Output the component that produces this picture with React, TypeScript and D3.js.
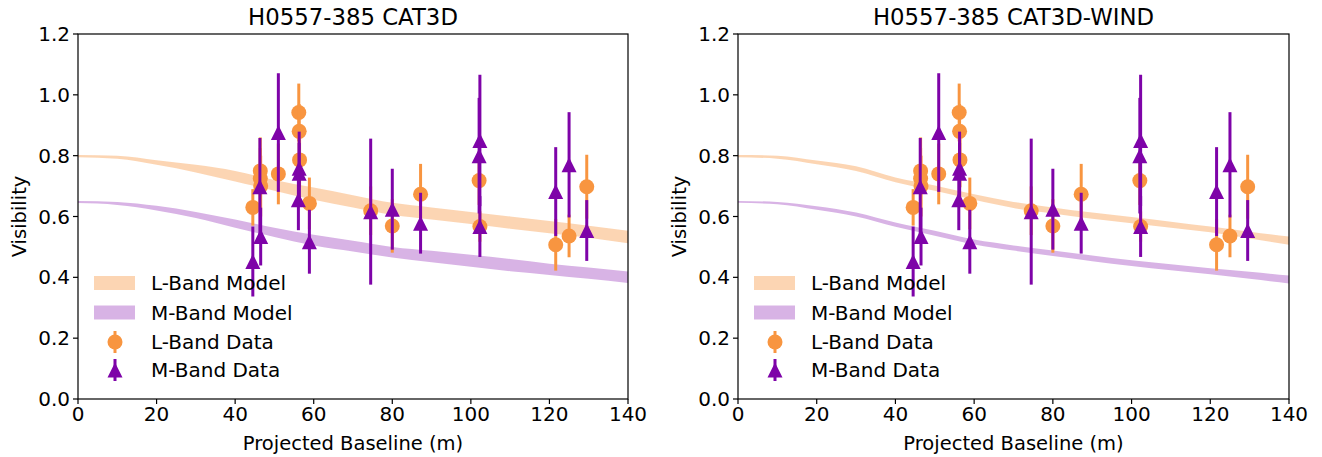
import React from "react";
import * as d3 from "d3";

// ---- Data ----
const bandBaselines = [0, 10, 20, 30, 40, 50, 60, 70, 80, 90, 100, 110, 120, 130, 140];

// Left panel (CAT3D) model bands
const cat3dLLow = [0.795, 0.79, 0.77, 0.745, 0.715, 0.685, 0.655, 0.63, 0.606, 0.59, 0.575, 0.56, 0.545, 0.53, 0.512];
const cat3dLHigh = [0.802, 0.8, 0.785, 0.77, 0.75, 0.72, 0.695, 0.67, 0.645, 0.63, 0.615, 0.6, 0.585, 0.57, 0.553];
const cat3dMLow = [0.644, 0.638, 0.62, 0.595, 0.563, 0.533, 0.505, 0.485, 0.465, 0.45, 0.435, 0.42, 0.408, 0.395, 0.381];
const cat3dMHigh = [0.651, 0.648, 0.635, 0.615, 0.59, 0.563, 0.54, 0.52, 0.5, 0.487, 0.474, 0.46, 0.445, 0.432, 0.419];

// Right panel (CAT3D-WIND) model bands
const windLLow = [0.795, 0.79, 0.772, 0.75, 0.713, 0.685, 0.655, 0.628, 0.61, 0.593, 0.578, 0.563, 0.548, 0.528, 0.507];
const windLHigh = [0.802, 0.8, 0.784, 0.765, 0.728, 0.702, 0.673, 0.648, 0.63, 0.613, 0.598, 0.583, 0.567, 0.55, 0.534];
const windMLow = [0.645, 0.64, 0.622, 0.6, 0.566, 0.537, 0.508, 0.488, 0.47, 0.453, 0.437, 0.423, 0.41, 0.395, 0.38];
const windMHigh = [0.651, 0.648, 0.634, 0.613, 0.58, 0.553, 0.524, 0.505, 0.488, 0.472, 0.456, 0.443, 0.43, 0.418, 0.406];

// L-band data
const lBaseline = [44.5, 46.4, 46.4, 46.5, 51.0, 56.2, 56.3, 56.4, 58.9, 74.5, 80.0, 87.2, 102.1, 102.3, 121.6, 125.0, 129.5];
const lVis = [0.63, 0.75, 0.725, 0.7, 0.74, 0.942, 0.88, 0.786, 0.643, 0.619, 0.569, 0.673, 0.718, 0.567, 0.507, 0.536, 0.698];
const lErr = [0.06, 0.11, 0.1, 0.1, 0.1, 0.095, 0.09, 0.09, 0.085, 0.08, 0.088, 0.1, 0.08, 0.05, 0.085, 0.07, 0.105];

// M-band data
const mBaseline = [44.5, 46.5, 46.3, 51.0, 56.3, 56.3, 56.1, 58.9, 74.5, 80.0, 87.2, 102.3, 102.1, 102.3, 121.6, 125.0, 129.5];
const mVis = [0.452, 0.534, 0.698, 0.876, 0.759, 0.742, 0.655, 0.517, 0.616, 0.624, 0.578, 0.85, 0.8, 0.567, 0.682, 0.77, 0.554];
const mErr = [0.115, 0.095, 0.16, 0.195, 0.12, 0.1, 0.1, 0.105, 0.24, 0.133, 0.1, 0.216, 0.19, 0.1, 0.146, 0.173, 0.1];

const xTicks = [0, 20, 40, 60, 80, 100, 120, 140];
const yTicks = [0, 0.2, 0.4, 0.6, 0.8, 1.0, 1.2];
const legendLabels = ["L-Band Model", "M-Band Model", "L-Band Data", "M-Band Data"];

const ORANGE = "#F89540";
const PURPLE = "#7E03A8";
const FONT = "DejaVu Sans, sans-serif";

const panels = [
  { left: 78, right: 628, title: "H0557-385 CAT3D", lLo: cat3dLLow, lHi: cat3dLHigh, mLo: cat3dMLow, mHi: cat3dMHigh },
  { left: 738, right: 1289, title: "H0557-385 CAT3D-WIND", lLo: windLLow, lHi: windLHigh, mLo: windMLow, mHi: windMHigh },
];

const TOP = 34;
const BOTTOM = 399;

function Panel({ p }: { p: (typeof panels)[number] }) {
  const x = d3.scaleLinear().domain([0, 140]).range([p.left, p.right]);
  const y = d3.scaleLinear().domain([0, 1.2]).range([BOTTOM, TOP]);
  const area = (lo: number[], hi: number[]) =>
    d3
      .area<number>()
      .x((_, i) => x(bandBaselines[i]))
      .y0((_, i) => y(lo[i]))
      .y1((_, i) => y(hi[i]))
      .curve(d3.curveMonotoneX)(bandBaselines) as string;
  const tri = (cx: number, cy: number, s: number) =>
    `M${cx},${cy - s / 2}L${cx - s / 2},${cy + s / 2}L${cx + s / 2},${cy + s / 2}Z`;
  const cx = (p.left + p.right) / 2;
  const legY = [283, 312.5, 342, 370];
  return (
    <g>
      <text x={cx} y={25} textAnchor="middle" fontSize={22.8} fontFamily={FONT}>
        {p.title}
      </text>
      <path d={area(p.lLo, p.lHi)} fill={ORANGE} fillOpacity={0.4} />
      <path d={area(p.mLo, p.mHi)} fill={PURPLE} fillOpacity={0.3} />
      {lBaseline.map((b, i) => (
        <g key={"l" + i}>
          <line x1={x(b)} x2={x(b)} y1={y(lVis[i] - lErr[i])} y2={y(lVis[i] + lErr[i])} stroke={ORANGE} strokeWidth={3} />
          <circle cx={x(b)} cy={y(lVis[i])} r={7.5} fill={ORANGE} />
        </g>
      ))}
      {mBaseline.map((b, i) => (
        <g key={"m" + i}>
          <line x1={x(b)} x2={x(b)} y1={y(mVis[i] - mErr[i])} y2={y(mVis[i] + mErr[i])} stroke={PURPLE} strokeWidth={3} />
          <path d={tri(x(b), y(mVis[i]), 15)} fill={PURPLE} />
        </g>
      ))}
      <rect x={p.left} y={TOP} width={p.right - p.left} height={BOTTOM - TOP} fill="none" stroke="#000" strokeWidth={1.2} />
      {xTicks.map((t) => (
        <g key={"x" + t}>
          <line x1={x(t)} x2={x(t)} y1={BOTTOM} y2={BOTTOM + 5} stroke="#000" strokeWidth={1.2} />
          <text x={x(t)} y={421} textAnchor="middle" fontSize={20} fontFamily={FONT}>
            {t}
          </text>
        </g>
      ))}
      {yTicks.map((t) => (
        <g key={"y" + t}>
          <line x1={p.left - 5} x2={p.left} y1={y(t)} y2={y(t)} stroke="#000" strokeWidth={1.2} />
          <text x={p.left - 8} y={y(t) + 7} textAnchor="end" fontSize={20} fontFamily={FONT}>
            {t.toFixed(1)}
          </text>
        </g>
      ))}
      <text x={cx} y={450} textAnchor="middle" fontSize={19.5} fontFamily={FONT}>
        Projected Baseline (m)
      </text>
      <text
        transform={`translate(${p.left - 52},${(TOP + BOTTOM) / 2}) rotate(-90)`}
        textAnchor="middle"
        fontSize={19.5}
        fontFamily={FONT}
      >
        Visibility
      </text>
      {/* legend */}
      <rect x={p.left + 16} y={legY[0] - 7} width={41} height={14} fill={ORANGE} fillOpacity={0.4} />
      <rect x={p.left + 16} y={legY[1] - 7} width={41} height={14} fill={PURPLE} fillOpacity={0.3} />
      <line x1={p.left + 37} x2={p.left + 37} y1={legY[2] - 11} y2={legY[2] + 11} stroke={ORANGE} strokeWidth={3} />
      <circle cx={p.left + 37} cy={legY[2]} r={7.5} fill={ORANGE} />
      <line x1={p.left + 37} x2={p.left + 37} y1={legY[3] - 11} y2={legY[3] + 11} stroke={PURPLE} strokeWidth={3} />
      <path d={tri(p.left + 37, legY[3], 15)} fill={PURPLE} />
      {legendLabels.map((l, i) => (
        <text key={l} x={p.left + 73} y={legY[i] + 7} fontSize={20} fontFamily={FONT}>
          {l}
        </text>
      ))}
    </g>
  );
}

export default function App() {
  return (
    <svg
      width={1322}
      height={457}
      style={{ position: "absolute", left: 0, top: 0, background: "#fff" }}
    >
      {panels.map((p) => (
        <Panel key={p.title} p={p} />
      ))}
    </svg>
  );
}
